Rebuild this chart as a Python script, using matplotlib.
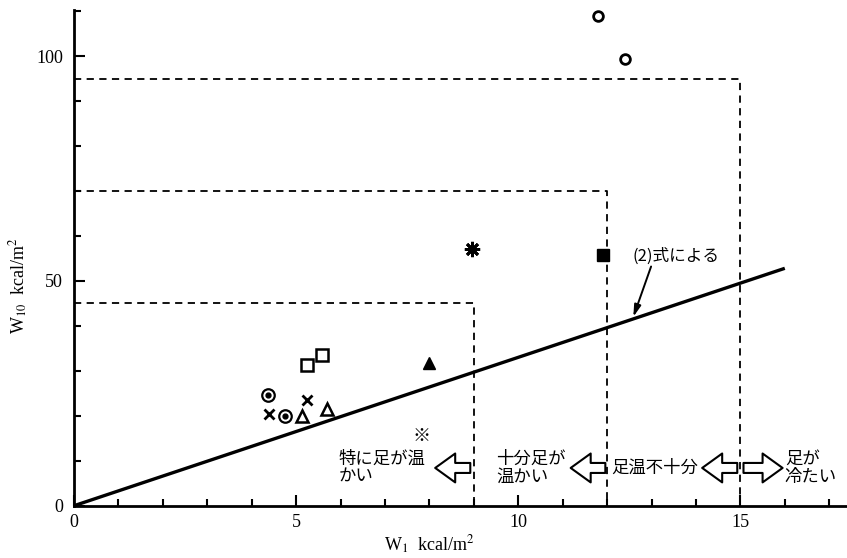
import numpy as np
import matplotlib.pyplot as plt

plt.rcParams['mathtext.fontset'] = 'stix'

# measured points (W1, W10)
openCircleX = [11.8, 12.4]
openCircleY = [109.0, 99.3]
doubleCircleX = [4.36, 4.74]
doubleCircleY = [24.6, 20.0]
crossX = [4.38, 5.24]
crossY = [20.3, 23.6]
openTriX = [5.14, 5.70]
openTriY = [19.9, 21.6]
openSqX = [5.24, 5.59]
openSqY = [31.3, 33.6]
filledTriX = [8.0]
filledTriY = [31.7]
filledSqX = [11.9]
filledSqY = [55.7]
starX = [8.96]
starY = [57.0]
refMarkX = [7.83]
refMarkY = [15.5]

# boundary boxes (W1 limit, W10 limit)
boundW1 = [9, 12, 15]
boundW10 = [45, 70, 95]

# line from eq.(2)
eqX = [0, 16]
eqY = [0, 52.8]

# zone labels and arrows
zoneText = ['特に足が温\nかい', '十分足が\n温かい', '足温不十分', '足が\n冷たい']
zoneTextX = [5.95, 9.5, 12.1, 16.0]
arrowFrom = [8.92, 11.96, 14.93, 15.07]
arrowTo = [8.13, 11.18, 14.14, 15.95]
arrowY = 8.4

jp = ['Noto Sans CJK JP', 'DejaVu Sans']
serif = 'Liberation Serif'

fig = plt.figure(figsize=(8.47, 5.58), dpi=100)
ax = fig.add_axes([0.0874, 0.0937, 0.9126, 0.888])

for w1, w10 in zip(boundW1, boundW10):
	ax.plot([0, w1, w1], [w10, w10, 0], 'k--', lw=1.3, dashes=(4, 3))

ax.plot(eqX, eqY, 'k-', lw=2.4, solid_capstyle='butt')

ax.plot(openCircleX, openCircleY, 'o', ms=7, mfc='white', mec='k', mew=2, clip_on=False)
ax.plot(doubleCircleX, doubleCircleY, 'o', ms=9, mfc='white', mec='k', mew=1.6)
ax.plot(doubleCircleX, doubleCircleY, 'o', ms=3.5, mfc='k', mec='k')
ax.plot(crossX, crossY, 'x', ms=7, mec='k', mew=2)
ax.plot(openTriX, openTriY, '^', ms=8, mfc='white', mec='k', mew=1.8)
ax.plot(openSqX, openSqY, 's', ms=8, mfc='white', mec='k', mew=1.8)
ax.plot(filledTriX, filledTriY, '^', ms=9, mfc='k', mec='k')
ax.plot(filledSqX, filledSqY, 's', ms=8, mfc='k', mec='k')
ax.plot(starX, starY, marker=(8, 2, 0), ms=11, mec='k', mew=2, ls='none')
for x, y in zip(refMarkX, refMarkY):
	ax.text(x, y, '※', family=jp, fontsize=13, ha='center', va='center')

# label for the eq.(2) line with its leader arrow
ax.text(12.57, 55.5, '(2)式による', family=jp, fontsize=12, ha='left', va='center')
ax.annotate('', xy=(12.59, 42.0), xytext=(12.99, 53.2),
	arrowprops=dict(arrowstyle='-|>,head_length=0.7,head_width=0.2', color='k', lw=1.4, shrinkA=0, shrinkB=0))

# hollow block arrows along the bottom
for a, b in zip(arrowFrom, arrowTo):
	ax.annotate('', xy=(b, arrowY), xytext=(a, arrowY),
		arrowprops=dict(arrowstyle='simple,head_length=0.9,head_width=1.3,tail_width=0.45',
			fc='white', ec='k', lw=1.5, shrinkA=0, shrinkB=0, mutation_scale=16))

ax.text(zoneTextX[0], 8.4, zoneText[0], family=jp, fontsize=12.5, ha='left', va='center', linespacing=1.0)
ax.text(zoneTextX[1], 8.4, zoneText[1], family=jp, fontsize=12.5, ha='left', va='center', linespacing=1.0)
ax.text(zoneTextX[2], 8.4, zoneText[2], family=jp, fontsize=12.5, ha='left', va='center')
ax.text(zoneTextX[3], 8.4, zoneText[3], family=jp, fontsize=12.5, ha='left', va='center', linespacing=1.0)

ax.set_xlim(0, 17.4)
ax.set_ylim(0, 110.2)
ax.set_xticks([0, 5, 10, 15])
ax.set_xticks(np.arange(0, 18, 1), minor=True)
ax.set_yticks([0, 50, 100])
ax.set_yticks(np.arange(0, 111, 10), minor=True)
ax.tick_params(which='both', direction='in', width=1.5, labelsize=13)
ax.tick_params(which='major', length=8)
ax.tick_params(which='minor', length=5)
ax.tick_params(axis='x', pad=6)
ax.tick_params(axis='y', pad=8)
for lab in ax.get_xticklabels() + ax.get_yticklabels():
	lab.set_family(serif)

for s in ['top', 'right']:
	ax.spines[s].set_visible(False)
for s in ['left', 'bottom']:
	ax.spines[s].set_linewidth(2)

ax.set_xlabel(r'W$_1$  kcal/m$^2$', family=serif, fontsize=13, va='center')
ax.set_ylabel(r'W$_{10}$  kcal/m$^2$', family=serif, fontsize=13, va='center')
ax.xaxis.set_label_coords(0.46, -0.079)
ax.yaxis.set_label_coords(-0.072, 0.445)

fig.savefig('out.png', dpi=100)
